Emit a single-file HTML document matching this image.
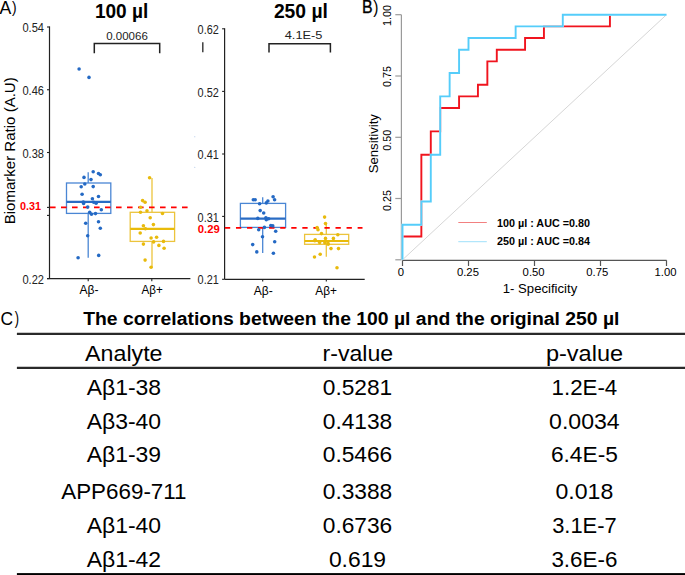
<!DOCTYPE html>
<html><head><meta charset="utf-8"><style>
html,body{margin:0;padding:0;background:#fff;}
svg{display:block;font-family:"Liberation Sans",sans-serif;}
</style></head><body>
<svg width="685" height="575" viewBox="0 0 685 575">
<rect width="685" height="575" fill="#fff"/>
<text x="-0.6" y="13.5" font-size="17.7" textLength="11.8" lengthAdjust="spacingAndGlyphs">A</text>
<text x="12.0" y="13.3" font-size="17.0" textLength="4.6" lengthAdjust="spacingAndGlyphs">)</text>
<text x="94.9" y="17.8" font-size="19.5" font-weight="bold" textLength="53.4" lengthAdjust="spacingAndGlyphs">100 µl</text>
<line x1="49.5" y1="26.4" x2="49.5" y2="278.6" stroke="#222" stroke-width="1.2"/>
<line x1="47" y1="27" x2="49.5" y2="27" stroke="#222" stroke-width="1.1"/>
<text x="44" y="32.0" font-size="11.9" text-anchor="end" fill="#222" textLength="21.6" lengthAdjust="spacingAndGlyphs">0.54</text>
<line x1="47" y1="89.75" x2="49.5" y2="89.75" stroke="#222" stroke-width="1.1"/>
<text x="44" y="94.75" font-size="11.9" text-anchor="end" fill="#222" textLength="21.6" lengthAdjust="spacingAndGlyphs">0.46</text>
<line x1="47" y1="152.5" x2="49.5" y2="152.5" stroke="#222" stroke-width="1.1"/>
<text x="44" y="157.5" font-size="11.9" text-anchor="end" fill="#222" textLength="21.6" lengthAdjust="spacingAndGlyphs">0.38</text>
<line x1="47" y1="278.6" x2="49.5" y2="278.6" stroke="#222" stroke-width="1.1"/>
<text x="44" y="283.6" font-size="11.9" text-anchor="end" fill="#222" textLength="21.6" lengthAdjust="spacingAndGlyphs">0.22</text>
<line x1="47" y1="207.4" x2="49.5" y2="207.4" stroke="#222" stroke-width="1.1"/>
<line x1="47" y1="215.4" x2="49.5" y2="215.4" stroke="#222" stroke-width="1.1"/>
<text x="41.1" y="210.3" font-size="11.2" font-weight="bold" text-anchor="end" fill="#f00" textLength="21.1" lengthAdjust="spacingAndGlyphs">0.31</text>
<text transform="translate(14.6,224.3) rotate(-90)" font-size="14.5" textLength="147" lengthAdjust="spacingAndGlyphs">Biomarker Ratio (A.U)</text>
<line x1="47" y1="278.6" x2="190.4" y2="278.6" stroke="#222" stroke-width="1.2"/>
<line x1="88.2" y1="278.6" x2="88.2" y2="281.2" stroke="#222" stroke-width="1.1"/>
<line x1="151.8" y1="278.6" x2="151.8" y2="281.2" stroke="#222" stroke-width="1.1"/>
<text x="89" y="293.6" font-size="12.5" text-anchor="middle" textLength="19" lengthAdjust="spacingAndGlyphs">Aβ-</text>
<text x="152.1" y="293.6" font-size="12.5" text-anchor="middle" textLength="21.2" lengthAdjust="spacingAndGlyphs">Aβ+</text>
<path d="M94.3,53.3 V43.5 H159.7 V53.3" fill="none" stroke="#222" stroke-width="1.5"/>
<text x="127.0" y="39.6" font-size="11" text-anchor="middle" fill="#222" textLength="41.6" lengthAdjust="spacingAndGlyphs">0.00066</text>
<line x1="88.2" y1="172.3" x2="88.2" y2="183" stroke="#4a86d4" stroke-width="1.3"/>
<line x1="88.2" y1="213.4" x2="88.2" y2="257.7" stroke="#4a86d4" stroke-width="1.3"/>
<rect x="66.5" y="183" width="44.3" height="30.4" fill="none" stroke="#4a86d4" stroke-width="1.3"/>
<line x1="66.5" y1="201.9" x2="110.8" y2="201.9" stroke="#2a6cc4" stroke-width="2.2"/>
<line x1="152" y1="178.1" x2="152" y2="212.3" stroke="#ecc43c" stroke-width="1.3"/>
<line x1="152" y1="241.4" x2="152" y2="267.2" stroke="#ecc43c" stroke-width="1.3"/>
<rect x="130.2" y="212.3" width="44.4" height="29.1" fill="none" stroke="#ecc43c" stroke-width="1.3"/>
<line x1="130.2" y1="228.9" x2="174.6" y2="228.9" stroke="#e9bb0a" stroke-width="2.2"/>
<line x1="50" y1="207.4" x2="188" y2="207.4" stroke="#f00" stroke-width="1.6" stroke-dasharray="5.6 5.4"/>
<circle cx="79.1" cy="69" r="1.78" fill="#2469c4"/>
<circle cx="89" cy="77.4" r="1.78" fill="#2469c4"/>
<circle cx="93.2" cy="171.7" r="1.78" fill="#2469c4"/>
<circle cx="98.5" cy="173.5" r="1.78" fill="#2469c4"/>
<circle cx="100.3" cy="174.7" r="1.78" fill="#2469c4"/>
<circle cx="84" cy="177.4" r="1.78" fill="#2469c4"/>
<circle cx="91" cy="179.6" r="1.78" fill="#2469c4"/>
<circle cx="84.8" cy="184" r="1.78" fill="#2469c4"/>
<circle cx="81.2" cy="186.8" r="1.78" fill="#2469c4"/>
<circle cx="93.2" cy="186.6" r="1.78" fill="#2469c4"/>
<circle cx="82.1" cy="194.3" r="1.78" fill="#2469c4"/>
<circle cx="98.5" cy="196.5" r="1.78" fill="#2469c4"/>
<circle cx="92.4" cy="198.8" r="1.78" fill="#2469c4"/>
<circle cx="83.3" cy="202" r="1.78" fill="#2469c4"/>
<circle cx="83.6" cy="203.5" r="1.78" fill="#2469c4"/>
<circle cx="93.7" cy="202.2" r="1.78" fill="#2469c4"/>
<circle cx="96.1" cy="203.2" r="1.78" fill="#2469c4"/>
<circle cx="87.7" cy="207.1" r="1.78" fill="#2469c4"/>
<circle cx="101.3" cy="209.7" r="1.78" fill="#2469c4"/>
<circle cx="89.7" cy="212.2" r="1.78" fill="#2469c4"/>
<circle cx="91.5" cy="214.3" r="1.78" fill="#2469c4"/>
<circle cx="95.5" cy="213.6" r="1.78" fill="#2469c4"/>
<circle cx="85.7" cy="223.3" r="1.78" fill="#2469c4"/>
<circle cx="98.5" cy="221.8" r="1.78" fill="#2469c4"/>
<circle cx="100.3" cy="228.3" r="1.78" fill="#2469c4"/>
<circle cx="87.7" cy="235.8" r="1.78" fill="#2469c4"/>
<circle cx="78.1" cy="257.8" r="1.78" fill="#2469c4"/>
<circle cx="98.7" cy="255.4" r="1.78" fill="#2469c4"/>
<circle cx="149.6" cy="177.7" r="1.78" fill="#e8ba0c"/>
<circle cx="142.6" cy="200.6" r="1.78" fill="#e8ba0c"/>
<circle cx="145.1" cy="202.2" r="1.78" fill="#e8ba0c"/>
<circle cx="140.6" cy="207.2" r="1.78" fill="#e8ba0c"/>
<circle cx="147" cy="210.7" r="1.78" fill="#e8ba0c"/>
<circle cx="140.5" cy="212.2" r="1.78" fill="#e8ba0c"/>
<circle cx="162.5" cy="213.5" r="1.78" fill="#e8ba0c"/>
<circle cx="150.2" cy="217.8" r="1.78" fill="#e8ba0c"/>
<circle cx="143.4" cy="225.8" r="1.78" fill="#e8ba0c"/>
<circle cx="153.4" cy="224.6" r="1.78" fill="#e8ba0c"/>
<circle cx="145.4" cy="228.7" r="1.78" fill="#e8ba0c"/>
<circle cx="140.2" cy="233" r="1.78" fill="#e8ba0c"/>
<circle cx="151.1" cy="238" r="1.78" fill="#e8ba0c"/>
<circle cx="156.6" cy="237.2" r="1.78" fill="#e8ba0c"/>
<circle cx="153.6" cy="241.9" r="1.78" fill="#e8ba0c"/>
<circle cx="163.5" cy="241.4" r="1.78" fill="#e8ba0c"/>
<circle cx="143.4" cy="244.1" r="1.78" fill="#e8ba0c"/>
<circle cx="158.9" cy="245.4" r="1.78" fill="#e8ba0c"/>
<circle cx="164.1" cy="248.3" r="1.78" fill="#e8ba0c"/>
<circle cx="145.1" cy="260.1" r="1.78" fill="#e8ba0c"/>
<circle cx="151.1" cy="267.2" r="1.78" fill="#e8ba0c"/>
<circle cx="194.8" cy="136.8" r="0.5" fill="#9bb8e0"/>
<circle cx="194.8" cy="167.3" r="0.5" fill="#9bb8e0"/>
<text x="273.9" y="17.8" font-size="19.5" font-weight="bold" textLength="54" lengthAdjust="spacingAndGlyphs">250 µl</text>
<line x1="224.6" y1="28.2" x2="224.6" y2="279.3" stroke="#222" stroke-width="1.2"/>
<line x1="222.1" y1="28.8" x2="224.6" y2="28.8" stroke="#222" stroke-width="1.1"/>
<text x="218.8" y="33.9" font-size="11.9" text-anchor="end" fill="#222" textLength="21.2" lengthAdjust="spacingAndGlyphs">0.62</text>
<line x1="222.1" y1="91.4" x2="224.6" y2="91.4" stroke="#222" stroke-width="1.1"/>
<text x="218.8" y="96.5" font-size="11.9" text-anchor="end" fill="#222" textLength="21.2" lengthAdjust="spacingAndGlyphs">0.52</text>
<line x1="222.1" y1="154" x2="224.6" y2="154" stroke="#222" stroke-width="1.1"/>
<text x="218.8" y="159.1" font-size="11.9" text-anchor="end" fill="#222" textLength="21.2" lengthAdjust="spacingAndGlyphs">0.41</text>
<line x1="222.1" y1="216.4" x2="224.6" y2="216.4" stroke="#222" stroke-width="1.1"/>
<text x="218.8" y="221.5" font-size="11.9" text-anchor="end" fill="#222" textLength="21.2" lengthAdjust="spacingAndGlyphs">0.31</text>
<line x1="222.1" y1="279.3" x2="224.6" y2="279.3" stroke="#222" stroke-width="1.1"/>
<text x="218.8" y="284.40000000000003" font-size="11.9" text-anchor="end" fill="#222" textLength="21.2" lengthAdjust="spacingAndGlyphs">0.21</text>
<text x="219.8" y="233" font-size="11.2" font-weight="bold" text-anchor="end" fill="#f00" textLength="22" lengthAdjust="spacingAndGlyphs">0.29</text>
<line x1="224.6" y1="279.3" x2="364.7" y2="279.3" stroke="#222" stroke-width="1.2"/>
<line x1="262.7" y1="279.3" x2="262.7" y2="281.6" stroke="#222" stroke-width="1.1"/>
<line x1="326.3" y1="279.3" x2="326.3" y2="281.6" stroke="#222" stroke-width="1.1"/>
<text x="263.3" y="294.5" font-size="12.5" text-anchor="middle" textLength="19" lengthAdjust="spacingAndGlyphs">Aβ-</text>
<text x="326.2" y="294.5" font-size="12.5" text-anchor="middle" textLength="21.7" lengthAdjust="spacingAndGlyphs">Aβ+</text>
<path d="M269,52.6 V43.8 H330.4 V52.6" fill="none" stroke="#222" stroke-width="1.5"/>
<text x="303.6" y="39.4" font-size="11" text-anchor="middle" fill="#222" textLength="37.7" lengthAdjust="spacingAndGlyphs">4.1E-5</text>
<line x1="202.8" y1="42.3" x2="202.8" y2="52.3" stroke="#333" stroke-width="1.4"/>
<line x1="262.7" y1="197.3" x2="262.7" y2="203.4" stroke="#4a86d4" stroke-width="1.3"/>
<line x1="262.7" y1="227.4" x2="262.7" y2="253" stroke="#4a86d4" stroke-width="1.3"/>
<rect x="240.4" y="203.4" width="45.2" height="24" fill="none" stroke="#4a86d4" stroke-width="1.3"/>
<line x1="240.4" y1="218.7" x2="285.6" y2="218.7" stroke="#2a6cc4" stroke-width="2.2"/>
<line x1="326.3" y1="223.8" x2="326.3" y2="234.4" stroke="#ecc43c" stroke-width="1.3"/>
<line x1="326.3" y1="244.3" x2="326.3" y2="256.7" stroke="#ecc43c" stroke-width="1.3"/>
<rect x="304.6" y="234.4" width="44.1" height="9.9" fill="none" stroke="#ecc43c" stroke-width="1.3"/>
<line x1="304.6" y1="241" x2="348.7" y2="241" stroke="#e9bb0a" stroke-width="2.2"/>
<line x1="224.9" y1="227.9" x2="362.5" y2="227.9" stroke="#f00" stroke-width="1.6" stroke-dasharray="5.3 5.76"/>
<circle cx="253.3" cy="199.7" r="1.78" fill="#2469c4"/>
<circle cx="255.2" cy="199.7" r="1.78" fill="#2469c4"/>
<circle cx="273.1" cy="196.8" r="1.78" fill="#2469c4"/>
<circle cx="274.6" cy="199.7" r="1.78" fill="#2469c4"/>
<circle cx="267.9" cy="201" r="1.78" fill="#2469c4"/>
<circle cx="266.3" cy="202.9" r="1.78" fill="#2469c4"/>
<circle cx="259.6" cy="203.8" r="1.78" fill="#2469c4"/>
<circle cx="260.2" cy="210.6" r="1.78" fill="#2469c4"/>
<circle cx="263.7" cy="213" r="1.78" fill="#2469c4"/>
<circle cx="257.8" cy="218.4" r="1.78" fill="#2469c4"/>
<circle cx="265.9" cy="217.7" r="1.78" fill="#2469c4"/>
<circle cx="268.6" cy="218.7" r="1.78" fill="#2469c4"/>
<circle cx="266.3" cy="219.8" r="1.78" fill="#2469c4"/>
<circle cx="270.8" cy="225.5" r="1.78" fill="#2469c4"/>
<circle cx="272.8" cy="225.9" r="1.78" fill="#2469c4"/>
<circle cx="264.4" cy="227.4" r="1.78" fill="#2469c4"/>
<circle cx="258.7" cy="229.7" r="1.78" fill="#2469c4"/>
<circle cx="275.7" cy="231.3" r="1.78" fill="#2469c4"/>
<circle cx="262.5" cy="236.8" r="1.78" fill="#2469c4"/>
<circle cx="274.7" cy="241.8" r="1.78" fill="#2469c4"/>
<circle cx="252.7" cy="244.6" r="1.78" fill="#2469c4"/>
<circle cx="256.8" cy="251.9" r="1.78" fill="#2469c4"/>
<circle cx="273.4" cy="253.2" r="1.78" fill="#2469c4"/>
<circle cx="324.6" cy="217.1" r="1.78" fill="#e8ba0c"/>
<circle cx="325.5" cy="223.6" r="1.78" fill="#e8ba0c"/>
<circle cx="317.1" cy="227.6" r="1.78" fill="#e8ba0c"/>
<circle cx="318" cy="229.8" r="1.78" fill="#e8ba0c"/>
<circle cx="321.5" cy="233.6" r="1.78" fill="#e8ba0c"/>
<circle cx="337.8" cy="234.8" r="1.78" fill="#e8ba0c"/>
<circle cx="325.5" cy="238.4" r="1.78" fill="#e8ba0c"/>
<circle cx="333.4" cy="238.4" r="1.78" fill="#e8ba0c"/>
<circle cx="315.2" cy="239.8" r="1.78" fill="#e8ba0c"/>
<circle cx="314.8" cy="240.8" r="1.78" fill="#e8ba0c"/>
<circle cx="319.6" cy="242.4" r="1.78" fill="#e8ba0c"/>
<circle cx="324.8" cy="242.8" r="1.78" fill="#e8ba0c"/>
<circle cx="328.2" cy="244.2" r="1.78" fill="#e8ba0c"/>
<circle cx="327.9" cy="243" r="1.78" fill="#e8ba0c"/>
<circle cx="331" cy="248.6" r="1.78" fill="#e8ba0c"/>
<circle cx="338.5" cy="248.6" r="1.78" fill="#e8ba0c"/>
<circle cx="320.2" cy="254.2" r="1.78" fill="#e8ba0c"/>
<circle cx="314.5" cy="257" r="1.78" fill="#e8ba0c"/>
<circle cx="337" cy="267.7" r="1.78" fill="#e8ba0c"/>
<text x="361.9" y="12.7" font-size="18.3" textLength="10.6" lengthAdjust="spacingAndGlyphs" stroke="#000" stroke-width="0.35">B</text>
<text x="373.3" y="12.6" font-size="17.6" textLength="5.2" lengthAdjust="spacingAndGlyphs">)</text>
<line x1="401.4" y1="14.7" x2="401.4" y2="259.8" stroke="#9a9a9a" stroke-width="1.2"/>
<line x1="395.3" y1="14.7" x2="401.4" y2="14.7" stroke="#9a9a9a" stroke-width="1.2"/>
<text transform="translate(390.7,15.4) rotate(-90)" font-size="11" text-anchor="middle" textLength="21" lengthAdjust="spacingAndGlyphs">1.00</text>
<line x1="395.3" y1="76" x2="401.4" y2="76" stroke="#9a9a9a" stroke-width="1.2"/>
<text transform="translate(390.7,76.6) rotate(-90)" font-size="11" text-anchor="middle" textLength="21" lengthAdjust="spacingAndGlyphs">0.75</text>
<line x1="395.3" y1="137.3" x2="401.4" y2="137.3" stroke="#9a9a9a" stroke-width="1.2"/>
<text transform="translate(390.7,140.3) rotate(-90)" font-size="11" text-anchor="middle" textLength="21" lengthAdjust="spacingAndGlyphs">0.50</text>
<line x1="395.3" y1="198.5" x2="401.4" y2="198.5" stroke="#9a9a9a" stroke-width="1.2"/>
<text transform="translate(390.7,200.5) rotate(-90)" font-size="11" text-anchor="middle" textLength="21" lengthAdjust="spacingAndGlyphs">0.25</text>
<line x1="395.3" y1="259.8" x2="401.4" y2="259.8" stroke="#9a9a9a" stroke-width="1.2"/>
<text transform="translate(377.6,143.7) rotate(-90)" font-size="12.7" text-anchor="middle" textLength="59.3" lengthAdjust="spacingAndGlyphs">Sensitivity</text>
<line x1="402.5" y1="260.3" x2="666.6" y2="260.3" stroke="#555" stroke-width="1.2"/>
<line x1="402.5" y1="260.3" x2="402.5" y2="266" stroke="#555" stroke-width="1.2"/>
<text x="401" y="276.3" font-size="11.3" text-anchor="middle" textLength="6.3" lengthAdjust="spacingAndGlyphs">0</text>
<line x1="468.5" y1="260.3" x2="468.5" y2="266" stroke="#555" stroke-width="1.2"/>
<text x="467.95" y="276.3" font-size="11.3" text-anchor="middle" textLength="22" lengthAdjust="spacingAndGlyphs">0.25</text>
<line x1="534.5" y1="260.3" x2="534.5" y2="266" stroke="#555" stroke-width="1.2"/>
<text x="533.6" y="276.3" font-size="11.3" text-anchor="middle" textLength="22" lengthAdjust="spacingAndGlyphs">0.50</text>
<line x1="600.5" y1="260.3" x2="600.5" y2="266" stroke="#555" stroke-width="1.2"/>
<text x="597.3" y="276.3" font-size="11.3" text-anchor="middle" textLength="22" lengthAdjust="spacingAndGlyphs">0.75</text>
<line x1="666.5" y1="260.3" x2="666.5" y2="266" stroke="#555" stroke-width="1.2"/>
<text x="665.5" y="276.3" font-size="11.3" text-anchor="middle" textLength="22" lengthAdjust="spacingAndGlyphs">1.00</text>
<text x="540" y="293" font-size="12.7" text-anchor="middle" textLength="74.4" lengthAdjust="spacingAndGlyphs">1- Specificity</text>
<line x1="402.5" y1="259.8" x2="666.5" y2="14.7" stroke="#d6d6d6" stroke-width="1"/>
<path d="M402.50,236.46 L421.36,236.46 L421.36,154.76 L430.79,154.76 L430.79,131.41 L440.21,131.41 L440.21,108.07 L459.07,108.07 L459.07,96.40 L477.93,96.40 L477.93,84.73 L487.36,84.73 L487.36,61.39 L496.79,61.39 L496.79,49.71 L525.07,49.71 L525.07,38.04 L543.93,38.04 L543.93,26.37 L609.93,26.37 L609.93,14.70" fill="none" stroke="#f0141e" stroke-width="1.9"/>
<path d="M402.50,259.80 L402.50,224.79 L421.36,224.79 L421.36,201.44 L430.79,201.44 L430.79,154.76 L440.21,154.76 L440.21,96.40 L449.64,96.40 L449.64,73.06 L459.07,73.06 L459.07,49.71 L468.50,49.71 L468.50,38.04 L515.64,38.04 L515.64,26.37 L562.79,26.37 L562.79,14.70 L666.50,14.70" fill="none" stroke="#fff" stroke-width="1.9"/>
<path d="M402.50,259.80 L402.50,224.79 L421.36,224.79 L421.36,201.44 L430.79,201.44 L430.79,154.76 L440.21,154.76 L440.21,96.40 L449.64,96.40 L449.64,73.06 L459.07,73.06 L459.07,49.71 L468.50,49.71 L468.50,38.04 L515.64,38.04 L515.64,26.37 L562.79,26.37 L562.79,14.70 L666.50,14.70" fill="none" stroke="#55cdfa" stroke-width="1.9"/>
<line x1="458.3" y1="222.5" x2="486.8" y2="222.5" stroke="#f28080" stroke-width="1"/>
<line x1="458.3" y1="241.7" x2="486.8" y2="241.7" stroke="#9fe0fa" stroke-width="1"/>
<text x="497" y="227.1" font-size="11.6" font-weight="bold" textLength="93" lengthAdjust="spacingAndGlyphs">100 µl : AUC =0.80</text>
<text x="497" y="244.6" font-size="11.6" font-weight="bold" textLength="93" lengthAdjust="spacingAndGlyphs">250 µl : AUC =0.84</text>
<text x="0.5" y="324.6" font-size="18.2" textLength="12.6" lengthAdjust="spacingAndGlyphs">C</text>
<text x="14.7" y="324.4" font-size="17.7" textLength="4.3" lengthAdjust="spacingAndGlyphs">)</text>
<text x="83.2" y="325.3" font-size="18.9" font-weight="bold" textLength="536.3" lengthAdjust="spacingAndGlyphs">The correlations between the 100 µl and the original 250 µl</text>
<line x1="16.9" y1="333.85" x2="685" y2="333.85" stroke="#2a2a2a" stroke-width="2.1"/>
<text x="123.8" y="361" font-size="22.3" text-anchor="middle" textLength="77.4" lengthAdjust="spacingAndGlyphs">Analyte</text>
<text x="357.9" y="361" font-size="22.3" text-anchor="middle" textLength="70.6" lengthAdjust="spacingAndGlyphs">r-value</text>
<text x="584.5" y="361" font-size="22.3" text-anchor="middle" textLength="77.1" lengthAdjust="spacingAndGlyphs">p-value</text>
<line x1="16.9" y1="367.9" x2="685" y2="367.9" stroke="#2a2a2a" stroke-width="2.1"/>
<text x="123.9" y="394.5" font-size="21.7" text-anchor="middle" textLength="74.4" lengthAdjust="spacingAndGlyphs">Aβ1-38</text>
<text x="357.5" y="394.5" font-size="21.7" text-anchor="middle" textLength="69.5" lengthAdjust="spacingAndGlyphs">0.5281</text>
<text x="584.4" y="394.5" font-size="21.7" text-anchor="middle" textLength="65.7" lengthAdjust="spacingAndGlyphs">1.2E-4</text>
<text x="123.9" y="429" font-size="21.7" text-anchor="middle" textLength="74.4" lengthAdjust="spacingAndGlyphs">Aβ3-40</text>
<text x="357.5" y="429" font-size="21.7" text-anchor="middle" textLength="69.5" lengthAdjust="spacingAndGlyphs">0.4138</text>
<text x="584.4" y="429" font-size="21.7" text-anchor="middle" textLength="70.6" lengthAdjust="spacingAndGlyphs">0.0034</text>
<text x="123.9" y="462.4" font-size="21.7" text-anchor="middle" textLength="74.4" lengthAdjust="spacingAndGlyphs">Aβ1-39</text>
<text x="357.5" y="462.4" font-size="21.7" text-anchor="middle" textLength="69.5" lengthAdjust="spacingAndGlyphs">0.5466</text>
<text x="584.4" y="462.4" font-size="21.7" text-anchor="middle" textLength="66.9" lengthAdjust="spacingAndGlyphs">6.4E-5</text>
<text x="123.9" y="499.1" font-size="21.7" text-anchor="middle" textLength="125.3" lengthAdjust="spacingAndGlyphs">APP669-711</text>
<text x="357.5" y="499.1" font-size="21.7" text-anchor="middle" textLength="69.5" lengthAdjust="spacingAndGlyphs">0.3388</text>
<text x="584.4" y="499.1" font-size="21.7" text-anchor="middle" textLength="57.8" lengthAdjust="spacingAndGlyphs">0.018</text>
<text x="123.9" y="533.3" font-size="21.7" text-anchor="middle" textLength="74.4" lengthAdjust="spacingAndGlyphs">Aβ1-40</text>
<text x="357.5" y="533.3" font-size="21.7" text-anchor="middle" textLength="69.5" lengthAdjust="spacingAndGlyphs">0.6736</text>
<text x="584.4" y="533.3" font-size="21.7" text-anchor="middle" textLength="64.5" lengthAdjust="spacingAndGlyphs">3.1E-7</text>
<text x="123.9" y="566.5" font-size="21.7" text-anchor="middle" textLength="74.4" lengthAdjust="spacingAndGlyphs">Aβ1-42</text>
<text x="357.5" y="566.5" font-size="21.7" text-anchor="middle" textLength="57.2" lengthAdjust="spacingAndGlyphs">0.619</text>
<text x="584.4" y="566.5" font-size="21.7" text-anchor="middle" textLength="66" lengthAdjust="spacingAndGlyphs">3.6E-6</text>
<rect x="16.9" y="573.1" width="670" height="3" fill="#000"/>
</svg>
</body></html>
